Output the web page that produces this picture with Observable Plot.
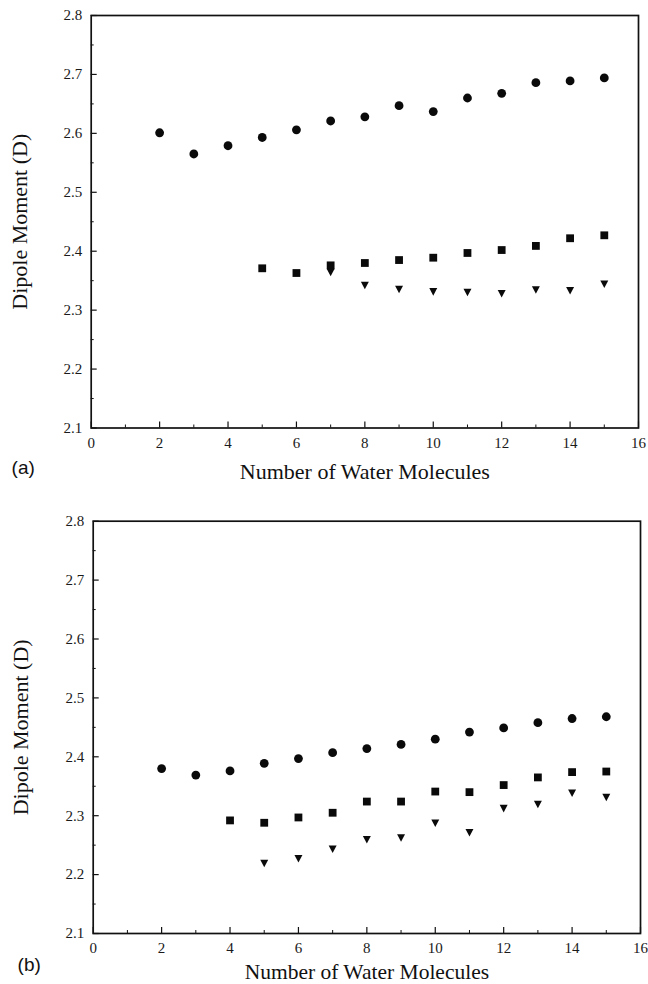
<!DOCTYPE html>
<html><head><meta charset="utf-8">
<script src="https://cdn.jsdelivr.net/npm/d3@7"></script>
<script src="https://cdn.jsdelivr.net/npm/@observablehq/plot@0.6"></script>
<style>
html,body{margin:0;padding:0;background:#fff;}
#wrap{width:648px;height:984px;position:relative;overflow:hidden;background:#fff;}
svg{display:block;}
</style></head><body><div id="wrap"></div>
<script>
const xTitle = "Number of Water Molecules";
const yTitle = "Dipole Moment (D)";
const panelLabels = ["(a)", "(b)"];
const xDomain = [0, 16];
const yDomain = [2.1, 2.8];
const xMajorTicks = [0, 2, 4, 6, 8, 10, 12, 14, 16];
const xMinorTicks = [1, 3, 5, 7, 9, 11, 13, 15];
const yMajorTicks = [2.1, 2.2, 2.3, 2.4, 2.5, 2.6, 2.7, 2.8];
const yMinorTicks = [2.15, 2.25, 2.35, 2.45, 2.55, 2.65, 2.75];

// Panel (a)
const aCircleN = [2, 3, 4, 5, 6, 7, 8, 9, 10, 11, 12, 13, 14, 15];
const aCircle = [2.601, 2.565, 2.579, 2.593, 2.606, 2.621, 2.628, 2.647, 2.637, 2.660, 2.668, 2.686, 2.689, 2.694];
const aSquareN = [5, 6, 7, 8, 9, 10, 11, 12, 13, 14, 15];
const aSquare = [2.371, 2.363, 2.376, 2.380, 2.385, 2.389, 2.397, 2.402, 2.409, 2.422, 2.427];
const aTriangleN = [7, 8, 9, 10, 11, 12, 13, 14, 15];
const aTriangle = [2.364, 2.342, 2.335, 2.331, 2.330, 2.328, 2.334, 2.333, 2.344];

// Panel (b)
const bCircleN = [2, 3, 4, 5, 6, 7, 8, 9, 10, 11, 12, 13, 14, 15];
const bCircle = [2.380, 2.369, 2.376, 2.389, 2.397, 2.407, 2.414, 2.421, 2.430, 2.442, 2.449, 2.458, 2.465, 2.468];
const bSquareN = [4, 5, 6, 7, 8, 9, 10, 11, 12, 13, 14, 15];
const bSquare = [2.292, 2.288, 2.297, 2.305, 2.324, 2.324, 2.341, 2.340, 2.352, 2.365, 2.374, 2.375];
const bTriangleN = [5, 6, 7, 8, 9, 10, 11, 12, 13, 14, 15];
const bTriangle = [2.219, 2.227, 2.243, 2.259, 2.262, 2.287, 2.271, 2.312, 2.319, 2.338, 2.331];

const zip = (ns, vs) => ns.map((n, i) => ({n, v: vs[i]}));

const triangleDown = {
  draw(ctx, size) {
    const r = Math.sqrt(size / Math.PI);
    const s = 1.85 * r, h = 1.75 * r;
    ctx.moveTo(-s / 2, -h / 2);
    ctx.lineTo(s / 2, -h / 2);
    ctx.lineTo(0, h / 2);
    ctx.closePath();
  }
};

function panel(cfg) {
  const serif = "'Liberation Serif', 'Times New Roman', serif";
  return Plot.plot({
    width: 648,
    height: cfg.height,
    marginTop: cfg.marginTop,
    marginBottom: cfg.marginBottom,
    marginLeft: cfg.marginLeft,
    marginRight: cfg.marginRight,
    style: {fontFamily: serif, fontSize: "15px", color: "#1a1a1a", background: "white", overflow: "visible"},
    x: {domain: xDomain},
    y: {domain: yDomain},
    marks: [
      Plot.axisX(xMajorTicks, {tickSize: 0, tickPadding: 9, label: null, tickFormat: d => String(d), fontSize: 15}),
      Plot.axisX(xMajorTicks, {tickSize: -6, fill: "none", label: null, stroke: "#111", strokeWidth: 1.2}),
      Plot.axisX(xMinorTicks, {tickSize: -3, fill: "none", label: null, stroke: "#111", strokeWidth: 1}),
      Plot.axisY(yMajorTicks, {tickSize: 0, tickPadding: 9, label: null, tickFormat: ".1f", fontSize: 15}),
      Plot.axisY(yMajorTicks, {tickSize: -6, fill: "none", label: null, stroke: "#111", strokeWidth: 1.2}),
      Plot.axisY(yMinorTicks, {tickSize: -3, fill: "none", label: null, stroke: "#111", strokeWidth: 1}),
      Plot.frame({stroke: "#111", strokeWidth: 1.7}),
      Plot.dot(cfg.circles, {x: "n", y: "v", symbol: "circle", r: 4.4, fill: "#0a0a0a", stroke: "none"}),
      Plot.dot(cfg.squares, {x: "n", y: "v", symbol: "square", r: 4.4, fill: "#0a0a0a", stroke: "none"}),
      Plot.dot(cfg.triangles, {x: "n", y: "v", symbol: triangleDown, r: 4.3, fill: "#0a0a0a", stroke: "none"}),
      Plot.text([xTitle], {text: d => d, frameAnchor: "bottom", dy: cfg.titleDy, lineAnchor: "middle", textAnchor: "middle", fontSize: cfg.titleSize, fontFamily: serif, fill: "#111"}),
      Plot.text([yTitle], {text: d => d, frameAnchor: "left", rotate: -90, dx: cfg.yTitleDx, lineAnchor: "middle", textAnchor: "middle", fontSize: 22, fontFamily: serif, fill: "#111"}),
      Plot.text([cfg.label], {text: d => d, frameAnchor: "bottom-left", dx: cfg.labelDx, dy: cfg.labelDy, lineAnchor: "middle", textAnchor: "middle", fontSize: 19, fontFamily: "'Liberation Sans', Arial, sans-serif", fill: "#111"})
    ]
  });
}

const wrap = document.getElementById("wrap");
wrap.appendChild(panel({
  height: 505, marginTop: 15, marginBottom: 77.5, marginLeft: 90.7, marginRight: 10,
  circles: zip(aCircleN, aCircle), squares: zip(aSquareN, aSquare), triangles: zip(aTriangleN, aTriangle),
  label: panelLabels[0], titleDy: 44, titleSize: 22, yTitleDx: -71, labelDx: -68, labelDy: 40
}));
wrap.appendChild(panel({
  height: 479, marginTop: 15.7, marginBottom: 51, marginLeft: 92.7, marginRight: 8,
  circles: zip(bCircleN, bCircle), squares: zip(bSquareN, bSquare), triangles: zip(bTriangleN, bTriangle),
  label: panelLabels[1], titleDy: 38.5, titleSize: 21.5, yTitleDx: -72, labelDx: -64, labelDy: 31
}));
</script></body></html>
